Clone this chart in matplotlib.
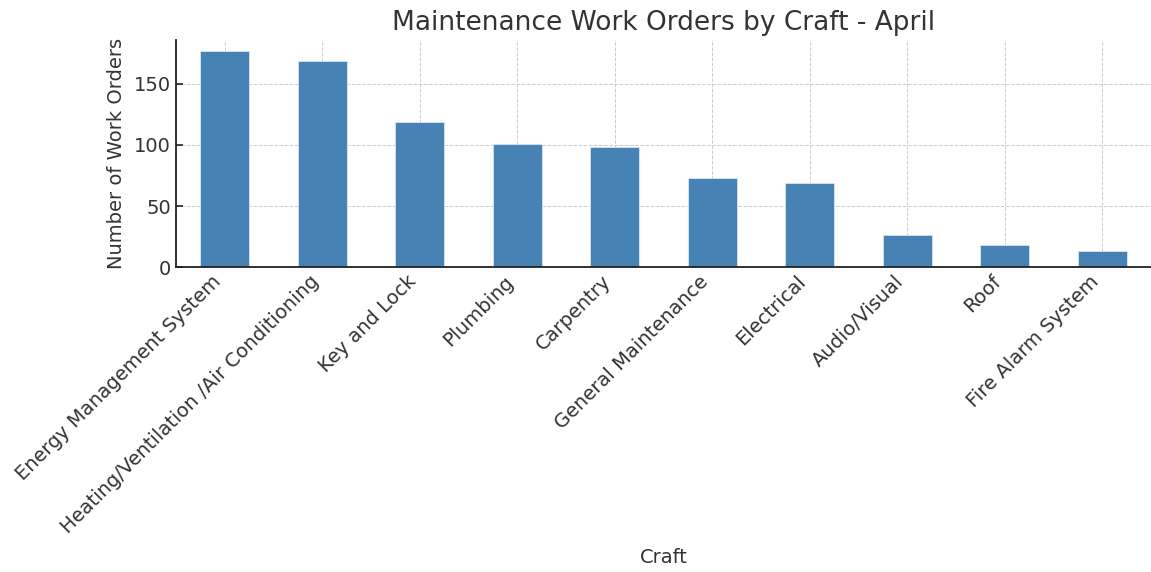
import matplotlib
matplotlib.use("Agg")
import matplotlib.pyplot as plt

crafts = ["Energy Management System", "Heating/Ventilation /Air Conditioning",
          "Key and Lock", "Plumbing", "Carpentry", "General Maintenance",
          "Electrical", "Audio/Visual", "Roof", "Fire Alarm System"]
orders = [177, 169, 119, 101, 98, 73, 69, 26, 18, 13]

plt.rcParams['font.family'] = ['DejaVu Sans']
text_color = '#333333'

fig = plt.figure(figsize=(11.51, 5.72), dpi=100)
ax = fig.add_axes([0.153, 0.533, 0.847, 0.397])

x = list(range(len(crafts)))
ax.bar(x, orders, width=0.5, color='steelblue', edgecolor='#dbe6f0', linewidth=0.6, zorder=2)
ax.set_xlim(-0.5, len(crafts) - 0.5)
ax.set_ylim(0, max(orders) * 1.05)
ax.set_yticks([0, 50, 100, 150])
ax.set_xticks(x)
ax.set_xticklabels(crafts, rotation=45, ha='right', rotation_mode='default')

ax.grid(True, linestyle='--', color='#cccccc', linewidth=0.7, zorder=0)
ax.set_axisbelow(True)
for s in ['top', 'right']:
    ax.spines[s].set_visible(False)
for s in ['left', 'bottom']:
    ax.spines[s].set_color('#222222')
    ax.spines[s].set_linewidth(1.3)
ax.tick_params(direction='in', length=5, width=1.2, colors='#222222',
               labelcolor=text_color, labelsize=14)

ax.set_title("Maintenance Work Orders by Craft - April", fontsize=19, color=text_color, pad=7)
ax.set_xlabel("Craft", fontsize=14, color=text_color, labelpad=8)
ax.set_ylabel("Number of Work Orders", fontsize=14, color=text_color, labelpad=6)

fig.savefig("out.png", dpi=100)
